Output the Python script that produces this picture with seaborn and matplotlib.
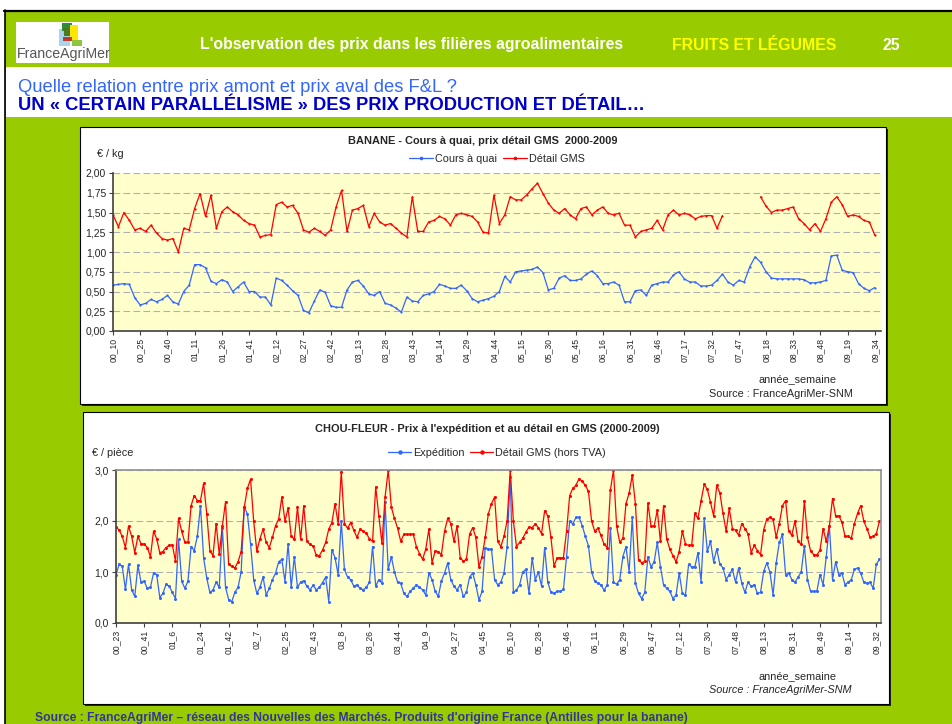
import numpy as np
import pandas as pd
import matplotlib.pyplot as plt
import seaborn as sns
from matplotlib.lines import Line2D
from matplotlib.patches import Rectangle

# BANANE: one reading every 3 weeks, starting at 00_10 (EUR / kg)
banane_pas = 3
banane_quai = [
    0.58, 0.59, 0.60, 0.59, 0.42, 0.33, 0.35, 0.40, 0.37, 0.40,
    0.45, 0.37, 0.34, 0.50, 0.58, 0.84, 0.84, 0.80, 0.63, 0.60,
    0.65, 0.62, 0.50, 0.56, 0.62, 0.50, 0.50, 0.43, 0.43, 0.33,
    0.67, 0.64, 0.58, 0.51, 0.45, 0.26, 0.23, 0.38, 0.52, 0.49,
    0.32, 0.30, 0.30, 0.52, 0.62, 0.64, 0.57, 0.47, 0.45, 0.50,
    0.35, 0.33, 0.29, 0.24, 0.43, 0.38, 0.37, 0.45, 0.47, 0.50,
    0.59, 0.57, 0.54, 0.54, 0.58, 0.51, 0.41, 0.37, 0.39, 0.41,
    0.44, 0.50, 0.69, 0.62, 0.75, 0.76, 0.77, 0.78, 0.81, 0.74,
    0.52, 0.54, 0.67, 0.70, 0.64, 0.64, 0.66, 0.72, 0.76, 0.70,
    0.60, 0.60, 0.62, 0.58, 0.37, 0.37, 0.51, 0.52, 0.45, 0.58,
    0.60, 0.62, 0.62, 0.71, 0.75, 0.66, 0.62, 0.62, 0.57, 0.57,
    0.58, 0.64, 0.72, 0.62, 0.58, 0.64, 0.62, 0.81, 0.94, 0.87,
    0.75, 0.67, 0.66, 0.66, 0.66, 0.66, 0.66, 0.65, 0.61, 0.61,
    0.62, 0.64, 0.95, 0.96, 0.77, 0.75, 0.74, 0.60, 0.54, 0.51,
    0.55,
]
banane_detail = [
    1.47, 1.32, 1.50, 1.40, 1.28, 1.30, 1.26, 1.34, 1.24, 1.17,
    1.15, 1.17, 1.00, 1.30, 1.28, 1.55, 1.74, 1.45, 1.72, 1.30,
    1.51, 1.57, 1.51, 1.47, 1.40, 1.36, 1.34, 1.19, 1.21, 1.22,
    1.60, 1.63, 1.57, 1.59, 1.49, 1.28, 1.25, 1.30, 1.26, 1.21,
    1.28, 1.57, 1.78, 1.26, 1.53, 1.55, 1.59, 1.32, 1.49, 1.38,
    1.34, 1.36, 1.30, 1.24, 1.19, 1.70, 1.26, 1.26, 1.38, 1.40,
    1.45, 1.42, 1.34, 1.47, 1.49, 1.47, 1.45, 1.38, 1.25, 1.24,
    1.72, 1.36, 1.47, 1.70, 1.66, 1.66, 1.72, 1.80, 1.87, 1.74,
    1.62, 1.53, 1.49, 1.55, 1.47, 1.42, 1.55, 1.57, 1.47, 1.53,
    1.57, 1.49, 1.47, 1.49, 1.34, 1.34, 1.19, 1.26, 1.28, 1.30,
    1.40, 1.28, 1.47, 1.53, 1.47, 1.49, 1.47, 1.42, 1.45, 1.46,
    1.46, 1.30, 1.46, np.nan, np.nan, np.nan, np.nan, np.nan, np.nan, 1.70,
    1.58, 1.50, 1.53, 1.53, 1.55, 1.57, 1.42, 1.36, 1.28, 1.36,
    1.26, 1.42, 1.63, 1.70, 1.60, 1.45, 1.47, 1.45, 1.40, 1.38,
    1.21,
]
banane_ticks = ['00_10', '00_25', '00_40', '01_11', '01_26', '01_41', '02_12', '02_27',
                '02_42', '03_13', '03_28', '03_43', '04_14', '04_29', '04_44', '05_15',
                '05_30', '05_45', '06_16', '06_31', '06_46', '07_17', '07_32', '07_47',
                '08_18', '08_33', '08_48', '09_19', '09_34']

# CHOU-FLEUR: one reading every 2 weeks, starting at 00_23 (EUR / piece)
chou_pas = 2
chou_expedition = [
    0.95, 1.15, 1.11, 0.66, 1.15, 0.65, 0.52, 1.13, 0.80, 0.82,
    0.68, 0.70, 0.98, 0.95, 0.50, 0.58, 0.76, 0.72, 0.60, 0.48,
    1.64, 0.82, 0.68, 0.82, 1.50, 1.42, 1.70, 2.30, 1.28, 0.88,
    0.60, 0.65, 0.80, 0.70, 1.87, 0.70, 0.46, 0.42, 0.60, 0.70,
    1.00, 2.27, 2.14, 1.55, 0.85, 0.58, 0.70, 0.90, 0.55, 0.68,
    0.85, 0.98, 1.20, 1.25, 0.81, 1.55, 0.70, 1.30, 0.70, 0.80,
    0.83, 0.72, 0.65, 0.74, 0.65, 0.70, 0.79, 0.90, 0.42, 1.44,
    1.28, 0.95, 2.00, 1.05, 0.90, 0.85, 0.72, 0.75, 0.68, 0.65,
    0.70, 0.80, 1.50, 0.72, 0.85, 0.78, 2.37, 1.05, 1.30, 1.00,
    0.80, 0.78, 0.58, 0.52, 0.62, 0.68, 0.75, 0.70, 0.65, 0.55,
    0.98, 0.85, 0.62, 0.52, 0.82, 0.98, 1.18, 0.85, 0.72, 0.65,
    0.75, 0.52, 0.60, 0.90, 0.98, 0.75, 0.45, 0.62, 1.48, 1.45,
    1.45, 0.85, 0.75, 0.80, 0.98, 1.50, 2.87, 0.60, 0.65, 0.75,
    1.00, 1.05, 0.58, 1.28, 0.85, 1.00, 0.72, 1.48, 0.80, 0.60,
    0.58, 0.62, 0.62, 0.66, 1.30, 2.00, 1.94, 2.07, 2.07, 1.91,
    1.70, 1.51, 1.00, 0.82, 0.78, 0.75, 0.64, 0.75, 1.87, 0.80,
    0.76, 0.85, 1.30, 1.50, 1.00, 2.07, 0.78, 0.58, 0.48, 0.60,
    1.30, 1.10, 1.20, 1.58, 1.10, 0.75, 0.68, 0.62, 0.48, 0.55,
    0.98, 0.58, 0.55, 1.15, 1.10, 1.10, 1.38, 0.81, 2.05, 1.41,
    1.60, 1.20, 1.45, 1.15, 1.08, 0.85, 0.95, 1.05, 0.80, 1.08,
    0.78, 0.60, 0.80, 0.72, 0.75, 0.58, 0.60, 1.01, 1.18, 1.00,
    0.55, 1.18, 1.58, 1.74, 0.95, 0.98, 0.85, 0.80, 0.90, 1.00,
    1.51, 0.85, 0.62, 0.62, 0.62, 0.95, 0.75, 1.30, 1.91, 0.85,
    1.20, 0.95, 0.98, 0.75, 0.80, 0.85, 1.05, 1.08, 0.98, 0.80,
    0.78, 0.80, 0.68, 1.15, 1.25,
]
chou_detail = [
    1.89, 1.82, 1.70, 1.48, 1.90, 1.70, 1.38, 1.70, 1.55, 1.55,
    1.48, 1.30, 1.80, 1.65, 1.38, 1.40, 1.48, 1.52, 1.53, 1.22,
    2.05, 1.80, 1.58, 1.58, 2.30, 2.50, 2.40, 2.40, 2.74, 2.14,
    1.42, 1.32, 1.95, 1.35, 1.90, 2.38, 1.15, 1.11, 1.08, 1.20,
    1.40, 2.27, 2.64, 2.82, 2.00, 1.41, 1.65, 1.84, 1.58, 1.48,
    1.68, 1.91, 2.04, 2.47, 2.00, 2.25, 1.70, 1.64, 2.27, 1.64,
    2.30, 1.60, 1.54, 1.51, 1.33, 1.32, 1.43, 1.58, 1.84, 1.97,
    2.34, 1.95, 2.97, 1.95, 1.86, 1.97, 1.82, 1.68, 1.84, 1.80,
    1.76, 1.65, 1.60, 2.67, 2.10, 1.56, 2.47, 3.00, 2.27, 2.05,
    1.86, 1.60, 1.74, 1.74, 1.74, 1.74, 1.50, 1.36, 1.25, 1.45,
    1.84, 1.18, 1.41, 1.40, 1.34, 1.80, 2.05, 1.95, 1.60, 1.90,
    1.28, 1.21, 1.25, 1.74, 1.87, 1.68, 1.10, 1.30, 1.68, 2.14,
    2.34, 2.47, 1.60, 1.50, 1.70, 2.00, 3.00, 2.00, 1.50, 1.58,
    1.66, 1.78, 1.88, 1.87, 1.94, 1.87, 1.75, 2.20, 2.10, 1.68,
    1.11, 1.28, 1.28, 1.28, 1.80, 2.50, 2.64, 2.70, 2.83, 2.78,
    2.70, 2.58, 2.00, 1.80, 1.86, 1.72, 1.54, 1.48, 2.60, 3.00,
    1.90, 1.58, 1.66, 2.34, 2.55, 2.90, 2.34, 1.24, 1.18, 1.21,
    2.35, 1.90, 1.90, 2.21, 1.60, 2.30, 1.65, 1.45, 1.32, 1.20,
    1.40, 1.80, 1.55, 1.52, 1.53, 2.15, 2.05, 2.40, 2.72, 2.62,
    2.37, 2.10, 2.70, 2.55, 2.15, 1.80, 2.25, 1.85, 1.82, 1.72,
    1.95, 1.85, 1.75, 1.38, 1.52, 1.42, 1.34, 1.83, 2.04, 2.07,
    2.03, 1.68, 1.95, 2.30, 2.40, 1.80, 1.72, 2.00, 1.60, 1.54,
    2.40, 1.68, 1.41, 1.34, 1.33, 1.43, 1.85, 1.60, 1.90, 2.44,
    2.10, 2.10, 1.98, 1.70, 1.70, 1.66, 1.95, 2.15, 2.30, 2.00,
    1.85, 1.68, 1.70, 1.75, 2.00,
]
chou_ticks = ['00_23', '00_41', '01_6', '01_24', '01_42', '02_7', '02_25', '02_43',
              '03_8', '03_26', '03_44', '04_9', '04_27', '04_45', '05_10', '05_28',
              '05_46', '06_11', '06_29', '06_47', '07_12', '07_30', '07_48', '08_13',
              '08_31', '08_49', '09_14', '09_32']

VERT = '#99cc00'
BLEU = '#3366ff'
ROUGE = '#ff0000'
JAUNE_FOND = '#ffffcc'
TXT = 7.8  # size of the small chart texts

sns.set_style('white')
plt.rcParams['font.family'] = ['Liberation Sans', 'DejaVu Sans']

fig = plt.figure(figsize=(9.53, 7.24), dpi=100)

# background layer in pixel coordinates (y downwards)
bg = fig.add_axes([0, 0, 1, 1])
bg.set_xlim(0, 953)
bg.set_ylim(724, 0)
bg.axis('off')

bg.add_patch(Rectangle((5, 11), 948, 713, color=VERT, lw=0))
bg.add_patch(Rectangle((6, 67), 947, 50, color='white', lw=0))
bg.plot([4, 953], [10.5, 10.5], color='black', lw=1.6)
bg.plot([5, 5], [10, 724], color='black', lw=1.2)

# logo
bg.add_patch(Rectangle((16, 22), 93, 41, color='white', lw=0))
for (x, y, w, h, c) in [(59, 29, 11, 17, '#a8d4ec'), (62, 23, 10, 8, '#2e8b3a'),
                        (70, 25, 8, 15, '#ffe600'), (64, 28, 6, 8, '#4d7a1e'),
                        (63, 37, 9, 4, '#c0392b'), (72, 40, 10, 6, '#8cc63f')]:
    bg.add_patch(Rectangle((x, y), w, h, color=c, lw=0))
bg.text(17, 54, 'FranceAgriMer', color='#555555', fontsize=10.2, va='center', ha='left')

bg.text(200, 45, "L'observation des prix dans les filières agroalimentaires",
        color='white', fontsize=11.4, weight='bold', va='center')
bg.text(672, 45, 'FRUITS ET LÉGUMES', color='#ffff00', fontsize=11.4, weight='bold', va='center')
bg.text(883, 45, '25', color='white', fontsize=11.4, weight='bold', va='center')
bg.text(18, 87, 'Quelle relation entre prix amont et prix aval des F&L ?',
        color=BLEU, fontsize=13.2, va='center')
bg.text(18, 106, 'UN « CERTAIN PARALLÉLISME » DES PRIX PRODUCTION ET DÉTAIL…',
        color='#0000cc', fontsize=13.2, weight='bold', va='center')
bg.text(35, 718, "Source : FranceAgriMer – réseau des Nouvelles des Marchés. "
        "Produits d'origine France (Antilles pour la banane)",
        color='#333399', fontsize=8.7, weight='bold', va='center')

# chart panels with shadow
for (x, y, w, h) in [(80, 127, 806, 277), (83, 412, 806, 292)]:
    bg.add_patch(Rectangle((x + 2, y + 2), w, h, color='#222222', lw=0))
    bg.add_patch(Rectangle((x, y), w, h, facecolor='white', edgecolor='black', lw=0.8))

bg.text(483, 141, 'BANANE - Cours à quai, prix détail GMS  2000-2009',
        fontsize=7.9, weight='bold', ha='center', va='center')
bg.text(97, 154, '€ / kg', fontsize=TXT, va='center')
bg.text(798, 379, 'année_semaine', fontsize=TXT, ha='center', va='center')
bg.text(781, 394, 'Source : FranceAgriMer-SNM', fontsize=TXT, ha='center', va='center')

bg.text(487, 429, "CHOU-FLEUR - Prix à l'expédition et au détail en GMS (2000-2009)",
        fontsize=7.9, weight='bold', ha='center', va='center')
bg.text(92, 453, '€ / pièce', fontsize=TXT, va='center')
bg.text(798, 676, 'année_semaine', fontsize=TXT, ha='center', va='center')
bg.text(780, 690, 'Source : FranceAgriMer-SNM', fontsize=TXT, style='italic',
        ha='center', va='center')

# data tables
banane = pd.DataFrame({'quai': banane_quai, 'detail': banane_detail})
banane['semaine'] = banane.index * banane_pas
banane['troncon'] = banane['detail'].isna().cumsum()
chou = pd.DataFrame({'expedition': chou_expedition, 'detail': chou_detail})
chou['semaine'] = chou.index * chou_pas


def style_axes(ax, ymax, ystep, fmt, xmax, ticks, step, boxed):
    ax.set_facecolor(JAUNE_FOND)
    ax.set_xlim(0, xmax)
    ax.set_ylim(0, ymax)
    yt = np.arange(0, ymax + 1e-9, ystep)
    ax.set_yticks(yt)
    ax.set_yticklabels([fmt.format(v).replace('.', ',') for v in yt], fontsize=7.5)
    ax.set_xticks(np.arange(len(ticks)) * step)
    ax.set_xticklabels(ticks, rotation=90, fontsize=6.2)
    ax.set_xlabel('')
    ax.set_ylabel('')
    ax.yaxis.grid(True, color='#b0b0b0', ls=(0, (6, 3)), lw=0.8)
    ax.xaxis.grid(False)
    ax.tick_params(axis='both', direction='out', length=3, width=0.8, color='#404040',
                   bottom=True, left=True, pad=2)
    for s in ['left', 'bottom']:
        ax.spines[s].set_color('#404040')
        ax.spines[s].set_linewidth(1.2)
    for s in ['top', 'right']:
        ax.spines[s].set_visible(boxed)
        ax.spines[s].set_color('#909090')
        ax.spines[s].set_linewidth(1.2)


# chart 1: banana
ax1 = fig.add_axes([113 / 953, 1 - 331 / 724, 768 / 953, 158 / 724])
sns.lineplot(data=banane, x='semaine', y='quai', color=BLEU, lw=0.9, marker='o',
             markersize=1.6, markeredgewidth=0, ax=ax1)
sns.lineplot(data=banane, x='semaine', y='detail', units='troncon', estimator=None,
             color=ROUGE, lw=0.9, marker='o', markersize=1.6, markeredgewidth=0, ax=ax1)
style_axes(ax1, 2.0, 0.25, '{:.2f}', 423.4, banane_ticks, 15, False)

h1 = [Line2D([], [], color=BLEU, lw=0.9, marker='o', markersize=1.6),
      Line2D([], [], color=ROUGE, lw=0.9, marker='o', markersize=1.6)]
ax1.legend(h1, ['Cours à quai', 'Détail GMS'], loc='center', bbox_to_anchor=(497, 159),
           bbox_transform=bg.transData, ncol=2, frameon=False, fontsize=TXT,
           handlelength=2.2, handletextpad=0.2, columnspacing=0.5, borderpad=0)

# chart 2: cauliflower
ax2 = fig.add_axes([116 / 953, 1 - 623 / 724, 765 / 953, 153 / 724])
sns.lineplot(data=chou, x='semaine', y='expedition', color=BLEU, lw=0.9, marker='o',
             markersize=2.2, markeredgewidth=0, ax=ax2)
sns.lineplot(data=chou, x='semaine', y='detail', color=ROUGE, lw=0.9, marker='o',
             markersize=2.2, markeredgewidth=0, ax=ax2)
style_axes(ax2, 3.0, 1.0, '{:.1f}', 489, chou_ticks, 18, True)

h2 = [Line2D([], [], color=BLEU, lw=0.9, marker='o', markersize=2.2),
      Line2D([], [], color=ROUGE, lw=0.9, marker='o', markersize=2.2)]
ax2.legend(h2, ['Expédition', 'Détail GMS (hors TVA)'], loc='center',
           bbox_to_anchor=(497, 453), bbox_transform=bg.transData, ncol=2, frameon=False,
           fontsize=TXT, handlelength=2.1, handletextpad=0.2, columnspacing=0.5, borderpad=0)

fig.savefig('out.png', dpi=100)
